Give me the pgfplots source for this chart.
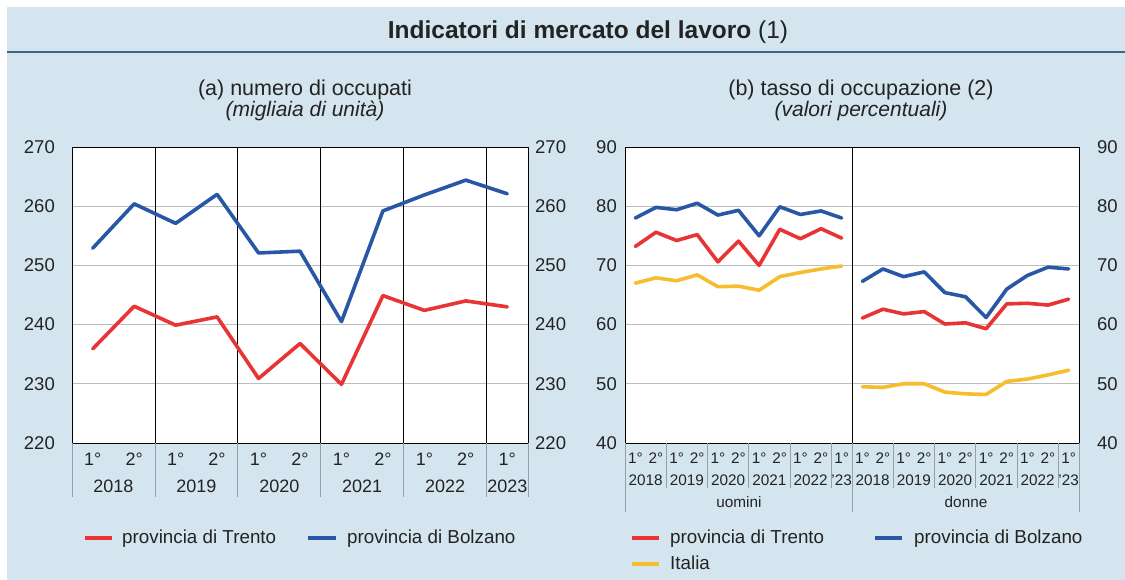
\documentclass[border=0pt]{standalone}
\usepackage{pgfplots}
\usepackage{pgfplotstable}
\pgfplotsset{compat=1.18}
\usepackage{fontspec}
\setmainfont{Liberation Sans}
\definecolor{bg}{RGB}{213,229,239}
\definecolor{tline}{RGB}{62,100,135}
\definecolor{cred}{RGB}{232,52,52}
\definecolor{cblue}{RGB}{40,88,165}
\definecolor{cyel}{RGB}{246,190,44}
\definecolor{txt}{RGB}{35,35,35}
\definecolor{gridc}{RGB}{190,190,190}
\definecolor{sepc}{RGB}{150,160,170}
\newcommand\fs[1]{\fontsize{#1}{#1}\selectfont}

\pgfplotstableread{
x trento bolzano
0.5 235.9 252.9
1.5 243.1 260.4
2.5 239.9 257.1
3.5 241.3 262.0
4.5 230.9 252.1
5.5 236.8 252.4
6.5 229.9 240.5
7.5 244.9 259.2
8.5 242.4 261.9
9.5 244.0 264.4
10.5 243.0 262.1
}\occupati

\pgfplotstableread{
x trento bolzano italia
0.5 73.2 78.0 67.0
1.5 75.6 79.8 67.9
2.5 74.2 79.4 67.4
3.5 75.2 80.5 68.4
4.5 70.6 78.5 66.4
5.5 74.1 79.3 66.5
6.5 70.0 75.0 65.8
7.5 76.1 79.9 68.1
8.5 74.5 78.6 68.8
9.5 76.2 79.2 69.4
10.5 74.6 78.0 69.9
}\uomini

\pgfplotstableread{
x trento bolzano italia
11.5 61.1 67.3 49.5
12.5 62.6 69.4 49.4
13.5 61.8 68.1 50.0
14.5 62.2 68.9 50.0
15.5 60.1 65.4 48.6
16.5 60.3 64.7 48.3
17.5 59.3 61.2 48.2
18.5 63.5 66.0 50.4
19.5 63.6 68.3 50.8
20.5 63.3 69.7 51.5
21.5 64.3 69.4 52.3
}\donne

\pgfplotsset{
  base/.style={
    scale only axis, height=296pt, anchor=south west,
    axis background/.style={fill=white},
    ymajorgrids, major grid style={gridc, line width=0.8pt},
    xtick=\empty, ytick style={draw=none}, major tick length=0pt,
    axis line style={black, line width=0.8pt},
    tick label style={font=\fs{18.5}, text=txt},
    /pgf/number format/assume math mode=true,
    yticklabel style={inner sep=0pt},
  },
  over/.style={
    scale only axis, height=296pt, anchor=south west,
    hide x axis, axis y line*=right, y axis line style={draw=none},
    ytick style={draw=none}, major tick length=0pt,
    tick label style={font=\fs{18.5}, text=txt},
    /pgf/number format/assume math mode=true,
    yticklabel style={inner sep=0pt, anchor=west},
  },
  dl/.style={line width=3.6pt, line join=round, line cap=round},
}

\begin{document}
\begin{tikzpicture}[x=1pt,y=1pt]
\path[use as bounding box, fill=white] (0,0) rectangle (1125,580);
\fill[bg] (7,0) rectangle (1125,573);
\draw[tline, line width=2pt] (7,528) -- (1125,528);
\node[anchor=base, inner sep=0pt, text=txt] at (588,541)
  {\fs{24.5}\textbf{Indicatori di mercato del lavoro} (1)};

% subtitles
\node[anchor=base, inner sep=0pt, text=txt, font=\fs{21.5}] at (305,484) {(a) numero di occupati};
\node[anchor=base, inner sep=0pt, text=txt, font=\fs{21}\itshape] at (305,463) {(migliaia di unità)};
\node[anchor=base, inner sep=0pt, text=txt, font=\fs{21.5}] at (861,484) {(b) tasso di occupazione (2)};
\node[anchor=base, inner sep=0pt, text=txt, font=\fs{21}\itshape] at (861,463) {(valori percentuali)};

% ---------- left panel ----------
\begin{axis}[base, at={(72pt,137pt)}, width=456pt,
  xmin=0, xmax=11, ymin=220, ymax=270, ytick={220,230,...,270},
  yticklabel style={anchor=east, xshift=-17pt}]
\pgfplotsinvokeforeach{2,4,6,8,10}{\draw[black, line width=0.8pt] (axis cs:#1,220) -- (axis cs:#1,270);}
\addplot[dl, cred] table[x=x, y=trento] {\occupati};
\addplot[dl, cblue] table[x=x, y=bolzano] {\occupati};
\end{axis}
\begin{axis}[over, at={(72pt,137pt)}, width=456pt,
  xmin=0, xmax=11, ymin=220, ymax=270, ytick={220,230,...,270},
  yticklabel style={xshift=7pt}]
\addplot[draw=none] coordinates {(0,220) (11,270)};
\end{axis}

\foreach \k in {0,2,4,6,8,10,11}
  \draw[sepc, line width=0.8pt] ({72+\k*456/11},137) -- ++(0,-54);
\foreach \k in {0,2,4,6,8,10}
  \node[anchor=base, inner sep=0pt, text=txt, font=\fs{18}] at ({72+(\k+0.5)*456/11},114) {1°};
\foreach \k in {1,3,5,7,9}
  \node[anchor=base, inner sep=0pt, text=txt, font=\fs{18}] at ({72+(\k+0.5)*456/11},114) {2°};
\foreach \y [count=\j from 0] in {2018,2019,2020,2021,2022}
  \node[anchor=base, inner sep=0pt, text=txt, font=\fs{18}] at ({72+(2*\j+1)*456/11},87.3) {\y};
\node[anchor=base, inner sep=0pt, text=txt, font=\fs{18}] at ({72+10.5*456/11},87.3) {2023};

% left legend
\draw[cred, line width=4pt] (85,42) -- (112,42);
\node[anchor=base west, inner sep=0pt, text=txt, font=\fs{18.8}] at (122,36) {provincia di Trento};
\draw[cblue, line width=4pt] (308,42) -- (336,42);
\node[anchor=base west, inner sep=0pt, text=txt, font=\fs{18.8}] at (347,36) {provincia di Bolzano};

% ---------- right panel ----------
\begin{axis}[base, at={(625pt,137pt)}, width=454pt,
  xmin=0, xmax=22, ymin=40, ymax=90, ytick={40,50,...,90},
  yticklabel style={anchor=east, xshift=-8pt}]
\draw[black, line width=0.8pt] (axis cs:11,40) -- (axis cs:11,90);
\pgfplotsinvokeforeach{2,4,6,8,10,13,15,17,19,21}{\draw[black, line width=0.8pt] (axis cs:#1,40) -- ++(0,11pt);}
\addplot[dl, cyel] table[x=x, y=italia] {\uomini};
\addplot[dl, cred] table[x=x, y=trento] {\uomini};
\addplot[dl, cblue] table[x=x, y=bolzano] {\uomini};
\addplot[dl, cyel] table[x=x, y=italia] {\donne};
\addplot[dl, cred] table[x=x, y=trento] {\donne};
\addplot[dl, cblue] table[x=x, y=bolzano] {\donne};
\end{axis}
\begin{axis}[over, at={(625pt,137pt)}, width=454pt,
  xmin=0, xmax=22, ymin=40, ymax=90, ytick={40,50,...,90},
  yticklabel style={xshift=18pt}]
\addplot[draw=none] coordinates {(0,40) (22,90)};
\end{axis}

\foreach \k in {2,4,6,8,10,13,15,17,19,21}
  \draw[sepc, line width=0.8pt] ({625+\k*454/22},137) -- ++(0,-45);
\foreach \k in {0,11,22}
  \draw[sepc, line width=0.8pt] ({625+\k*454/22},137) -- ++(0,-69);
\foreach \g in {0,11}{
  \foreach \k in {0,2,4,6,8,10}
    \node[anchor=base, inner sep=0pt, text=txt, font=\fs{15.3}] at ({625+(\g+\k+0.5)*454/22},116) {1°};
  \foreach \k in {1,3,5,7,9}
    \node[anchor=base, inner sep=0pt, text=txt, font=\fs{15.3}] at ({625+(\g+\k+0.5)*454/22},116) {2°};
  \foreach \y [count=\j from 0] in {2018,2019,2020,2021,2022}
    \node[anchor=base, inner sep=0pt, text=txt, font=\fs{15.3}] at ({625+(\g+2*\j+1)*454/22},94.3) {\y};
  \node[anchor=base, inner sep=0pt, text=txt, font=\fs{15.3}] at ({625+(\g+10.5)*454/22},94.3) {’23};
}
\node[anchor=base, inner sep=0pt, text=txt, font=\fs{15.3}] at (739,72.3) {uomini};
\node[anchor=base, inner sep=0pt, text=txt, font=\fs{15.3}] at (966,72.3) {donne};

% right legend
\draw[cred, line width=4pt] (632,42) -- (659,42);
\node[anchor=base west, inner sep=0pt, text=txt, font=\fs{18.8}] at (670,36) {provincia di Trento};
\draw[cblue, line width=4pt] (875,42) -- (902,42);
\node[anchor=base west, inner sep=0pt, text=txt, font=\fs{18.8}] at (914,36) {provincia di Bolzano};
\draw[cyel, line width=4pt] (632,16) -- (659,16);
\node[anchor=base west, inner sep=0pt, text=txt, font=\fs{18.8}] at (670,10.7) {Italia};
\end{tikzpicture}
\end{document}
